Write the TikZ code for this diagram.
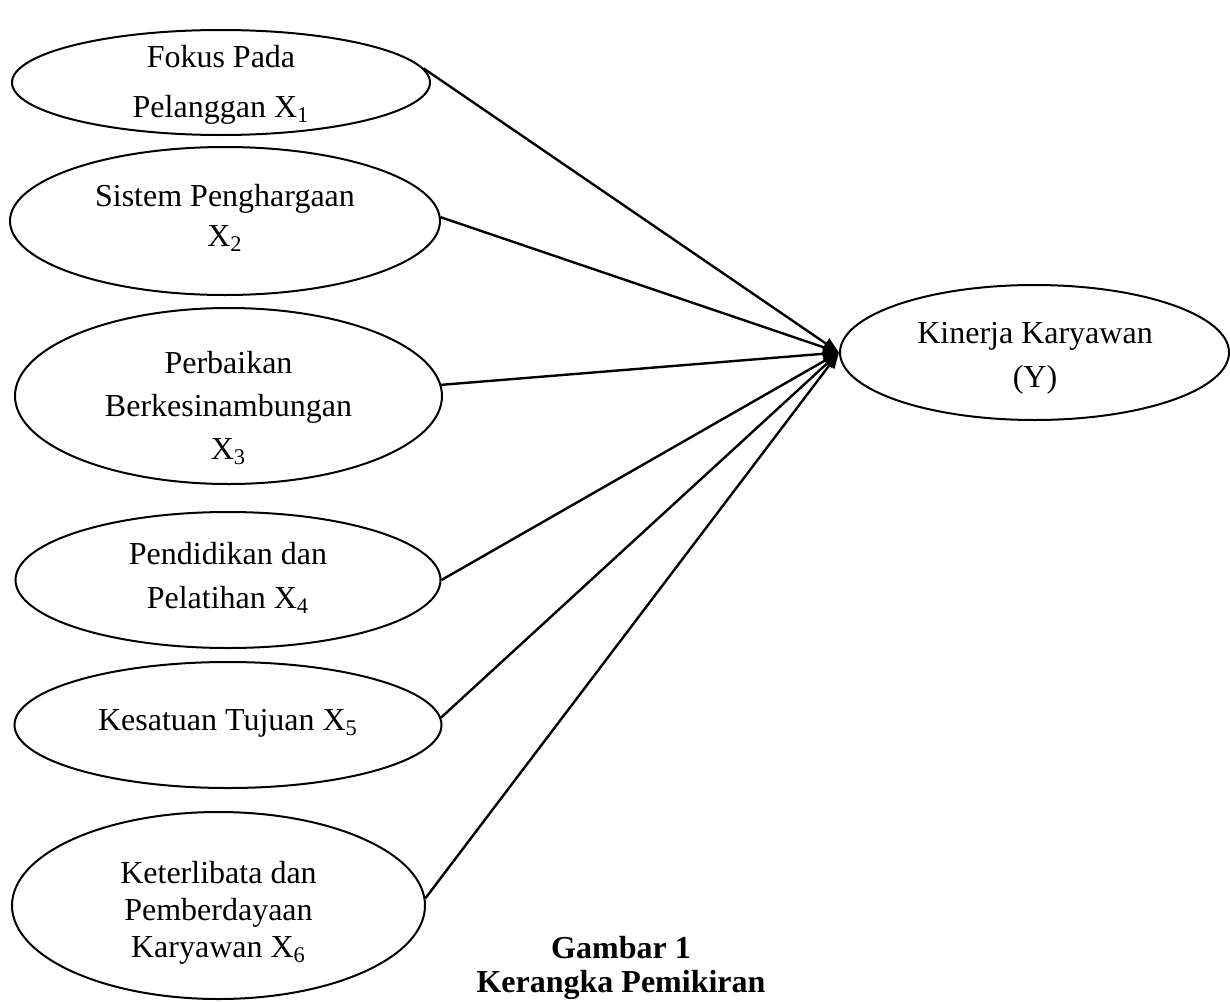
\documentclass[tikz,border=0pt]{standalone}
\usepackage{fontspec}
\setmainfont{Liberation Serif}
\usepackage{tikz}
\usetikzlibrary{shapes.geometric}
\usetikzlibrary{arrows.meta}
\tikzset{
	var/.style={draw, ellipse, line width=1pt, inner sep=0pt},
	lbl/.style={align=center, inner sep=0pt, font=\fontsize{16}{22}\selectfont},
	% caption under the picture
	capt/.style={align=center, inner sep=0pt, font=\fontsize{16}{17}\selectfont\bfseries},
}

\begin{document}
\begin{tikzpicture}[x=0.5pt, y=-0.5pt]
	\useasboundingbox (0,0) rectangle (1230,1001);
	
	\node (e1) [var, minimum width=209pt, minimum height=52.5pt] at (221,82.5) {};
	\node (e2) [var, minimum width=215pt, minimum height=74pt] at (225,221) {};
	\node (e3) [var, minimum width=213.5pt, minimum height=88pt] at (228.5,396) {};
	\node (e4) [var, minimum width=212.5pt, minimum height=68pt] at (228,580) {};
	\node (e5) [var, minimum width=213.5pt, minimum height=63pt] at (228,725) {};
	\node (e6) [var, minimum width=206.5pt, minimum height=93.5pt] at (218.5,905.5) {};
	\node (y) [var, minimum width=194.5pt, minimum height=67.5pt] at (1034.5,352.5) {};
	
	\node (t1) [lbl, font=\fontsize{16}{25}\selectfont] at (221,85) {Fokus Pada\\Pelanggan X\textsubscript{1}};
	\node (t2) [lbl, font=\fontsize{16}{20}\selectfont] at (225,218) {Sistem Penghargaan\\X\textsubscript{2}};
	\node (t3) [lbl, font=\fontsize{16}{21.5}\selectfont] at (228.5,408) {Perbaikan\\Berkesinambungan\\X\textsubscript{3}};
	\node (t4) [lbl] at (228,578) {Pendidikan dan\\Pelatihan X\textsubscript{4}};
	\node (t5) [lbl] at (228,723) {Kesatuan Tujuan X\textsubscript{5}};
	\node (t6) [lbl, font=\fontsize{16}{18.5}\selectfont] at (218.5,913) {Keterlibata dan\\Pemberdayaan\\Karyawan X\textsubscript{6}};
	\node (ty) [lbl] at (1035,358) {Kinerja Karyawan\\(Y)};
	
	\node (cap) [capt] at (621,968) {Gambar 1\\Kerangka Pemikiran};
	
	\begin{scope}[line width=1.2pt, black, -{Triangle[length=8pt, width=6pt]}]
		\draw (e1.4) -- (y.west);
		\draw (e2.1) -- (y.west);
		\draw (e3.3) -- (y.west);
		\draw (e4.east) -- (y.west);
		\draw (e5.2) -- (y.west);
		\draw (e6.2) -- (y.west);
	\end{scope}
\end{tikzpicture}
\end{document}
